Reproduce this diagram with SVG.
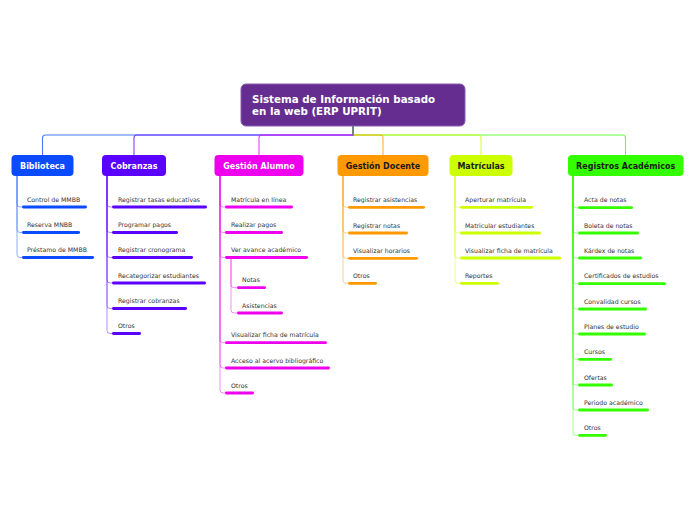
<svg xmlns="http://www.w3.org/2000/svg" width="696" height="520" viewBox="0 0 696 520">
<style>
.bg{fill:#ffffff}
.root rect{fill:#662d91;stroke:#8a5cb0;stroke-width:1}
.root text{font-family:"DejaVu Sans",Verdana,sans-serif;font-weight:bold;font-size:10.3px;fill:#ffffff}
.l1 text{font-family:"DejaVu Sans",Verdana,sans-serif;font-weight:bold;font-size:8px;text-anchor:middle}
.l2 text{font-family:"DejaVu Sans",Verdana,sans-serif;font-size:6.2px;fill:#333333}
.c{fill:none;stroke-width:1.1;stroke-opacity:0.75}
.s{fill:none;stroke-width:1;stroke-opacity:0.45}
.bar{stroke-width:2.8;stroke-linecap:round}
.blue{stroke:#0a4bff}.purp{stroke:#5a00ff}.mag{stroke:#ee00ee}.ora{stroke:#ff9900}.yel{stroke:#ccff00}.grn{stroke:#33ff00}
</style>
<rect class="bg" x="0" y="0" width="696" height="520"/>

<g id="connectors">
  <path class="c grn" d="M353,126 V135 H622.5 Q625.5,135 625.5,138 V155"/>
  <path class="c yel" d="M353,126 V135 H478 Q481,135 481,138 V155"/>
  <path class="c ora" d="M353,126 V135 H380 Q383,135 383,138 V155"/>
  <path class="c blue" d="M353,126 V135 H45.5 Q42.5,135 42.5,138 V155"/>
  <path class="c purp" d="M353,126 V135 H137 Q134,135 134,138 V155"/>
  <path class="c mag" d="M353,126 V135 H262 Q259,135 259,138 V155"/>
  <path class="c grn" d="M353,126 V135"/>

  <!-- Biblioteca stubs -->
  <path class="s blue" d="M17,176 V204 Q17,207 20,207 H22"/>
  <path class="s blue" d="M17,176 V229.5 Q17,232.5 20,232.5 H22"/>
  <path class="s blue" d="M17,176 V254.5 Q17,257.5 20,257.5 H22"/>
  <!-- Cobranzas stubs -->
  <path class="s purp" d="M107,176 V204 Q107,207 110,207 H112"/>
  <path class="s purp" d="M107,176 V229.5 Q107,232.5 110,232.5 H112"/>
  <path class="s purp" d="M107,176 V254.5 Q107,257.5 110,257.5 H112"/>
  <path class="s purp" d="M107,176 V280 Q107,283 110,283 H112"/>
  <path class="s purp" d="M107,176 V305.5 Q107,308.5 110,308.5 H112"/>
  <path class="s purp" d="M107,176 V330.5 Q107,333.5 110,333.5 H112"/>
  <!-- Gestion Alumno stubs -->
  <path class="s mag" d="M220,176 V204 Q220,207 223,207 H225"/>
  <path class="s mag" d="M220,176 V229.5 Q220,232.5 223,232.5 H225"/>
  <path class="s mag" d="M220,176 V254.5 Q220,257.5 223,257.5 H225"/>
  <path class="s mag" d="M220,176 V339.7 Q220,342.7 223,342.7 H225"/>
  <path class="s mag" d="M220,176 V365 Q220,368 223,368 H225"/>
  <path class="s mag" d="M220,176 V390 Q220,393 223,393 H225"/>
  <path class="s mag" d="M231,258.5 V284.7 Q231,287.7 234,287.7 H237"/>
  <path class="s mag" d="M231,258.5 V310 Q231,313 234,313 H237"/>
  <!-- Gestion Docente stubs -->
  <path class="s ora" d="M343,176 V204.3 Q343,207.3 346,207.3 H348"/>
  <path class="s ora" d="M343,176 V230 Q343,233 346,233 H348"/>
  <path class="s ora" d="M343,176 V255.3 Q343,258.3 346,258.3 H348"/>
  <path class="s ora" d="M343,176 V280.3 Q343,283.3 346,283.3 H348"/>
  <!-- Matriculas stubs -->
  <path class="s yel" d="M455,176 V204.3 Q455,207.3 458,207.3 H460"/>
  <path class="s yel" d="M455,176 V230 Q455,233 458,233 H460"/>
  <path class="s yel" d="M455,176 V255 Q455,258 458,258 H460"/>
  <path class="s yel" d="M455,176 V280.3 Q455,283.3 458,283.3 H460"/>
  <!-- Registros stubs -->
  <path class="s grn" d="M573,176 V204.7 Q573,207.7 576,207.7 H578"/>
  <path class="s grn" d="M573,176 V230 Q573,233 576,233 H578"/>
  <path class="s grn" d="M573,176 V255 Q573,258 576,258 H578"/>
  <path class="s grn" d="M573,176 V280.7 Q573,283.7 576,283.7 H578"/>
  <path class="s grn" d="M573,176 V306 Q573,309 576,309 H578"/>
  <path class="s grn" d="M573,176 V331 Q573,334 576,334 H578"/>
  <path class="s grn" d="M573,176 V356.3 Q573,359.3 576,359.3 H578"/>
  <path class="s grn" d="M573,176 V382 Q573,385 576,385 H578"/>
  <path class="s grn" d="M573,176 V407 Q573,410 576,410 H578"/>
  <path class="s grn" d="M573,176 V432.3 Q573,435.3 576,435.3 H578"/>
</g>

<g id="root" class="root">
  <rect x="241" y="84" width="224" height="42" rx="5"/>
  <text x="252" y="102.6">Sistema de Información basado</text>
  <text x="252" y="115.3">en la web (ERP UPRIT)</text>
</g>

<g id="biblioteca" class="l1">
  <rect x="11.5" y="155" width="62" height="21" rx="4" fill="#0a4bff"/>
  <text x="42.5" y="168.9" fill="#ffffff">Biblioteca</text>
</g>
<g id="cobranzas" class="l1">
  <rect x="102" y="155" width="64" height="21" rx="4" fill="#5a00ff"/>
  <text x="134" y="168.9" fill="#ffffff">Cobranzas</text>
</g>
<g id="gestion-alumno" class="l1">
  <rect x="214.5" y="155" width="89" height="21" rx="4" fill="#ee00ee"/>
  <text x="259" y="168.9" fill="#ffffff">Gestión Alumno</text>
</g>
<g id="gestion-docente" class="l1">
  <rect x="337.5" y="155" width="91" height="21" rx="4" fill="#ff9900"/>
  <text x="383" y="168.9" fill="#1a1a1a">Gestión Docente</text>
</g>
<g id="matriculas" class="l1">
  <rect x="449.5" y="155" width="63" height="21" rx="4" fill="#ccff00"/>
  <text x="481" y="168.9" fill="#1a1a1a">Matrículas</text>
</g>
<g id="registros" class="l1">
  <rect x="568" y="155" width="115.5" height="21" rx="4" fill="#33ff00"/>
  <text x="625.7" y="168.9" fill="#1a1a1a">Registros Académicos</text>
</g>

<!-- Biblioteca children -->
<g id="b1" class="l2"><text x="27" y="201.5">Control de MMBB</text><line class="bar blue" x1="23.4" y1="207" x2="85.6" y2="207"/></g>
<g id="b2" class="l2"><text x="27" y="227">Reserva MNBB</text><line class="bar blue" x1="23.4" y1="232.5" x2="78.6" y2="232.5"/></g>
<g id="b3" class="l2"><text x="27" y="252">Préstamo de MMBB</text><line class="bar blue" x1="23.4" y1="257.5" x2="92.6" y2="257.5"/></g>

<!-- Cobranzas children -->
<g id="c1" class="l2"><text x="118" y="201.5">Registrar tasas educativas</text><line class="bar purp" x1="113.4" y1="207" x2="205.6" y2="207"/></g>
<g id="c2" class="l2"><text x="118" y="227">Programar pagos</text><line class="bar purp" x1="113.4" y1="232.5" x2="176.6" y2="232.5"/></g>
<g id="c3" class="l2"><text x="118" y="252">Registrar cronograma</text><line class="bar purp" x1="113.4" y1="257.5" x2="191.6" y2="257.5"/></g>
<g id="c4" class="l2"><text x="118" y="277.5">Recategorizar estudiantes</text><line class="bar purp" x1="113.4" y1="283" x2="204.6" y2="283"/></g>
<g id="c5" class="l2"><text x="118" y="303">Registrar cobranzas</text><line class="bar purp" x1="113.4" y1="308.5" x2="185.6" y2="308.5"/></g>
<g id="c6" class="l2"><text x="118" y="328">Otros</text><line class="bar purp" x1="113.4" y1="333.5" x2="139.6" y2="333.5"/></g>

<!-- Gestion Alumno children -->
<g id="a1" class="l2"><text x="231" y="201.5">Matrícula en línea</text><line class="bar mag" x1="226.4" y1="207" x2="291.6" y2="207"/></g>
<g id="a2" class="l2"><text x="231" y="227">Realizar pagos</text><line class="bar mag" x1="226.4" y1="232.5" x2="281.6" y2="232.5"/></g>
<g id="a3" class="l2"><text x="231" y="252">Ver avance académico</text><line class="bar mag" x1="226.4" y1="257.5" x2="306.6" y2="257.5"/></g>
<g id="a3a" class="l2"><text x="242" y="282.2">Notas</text><line class="bar mag" x1="238.4" y1="287.7" x2="264.6" y2="287.7"/></g>
<g id="a3b" class="l2"><text x="242" y="307.5">Asistencias</text><line class="bar mag" x1="238.4" y1="313" x2="281.6" y2="313"/></g>
<g id="a4" class="l2"><text x="231" y="337.2">Visualizar ficha de matrícula</text><line class="bar mag" x1="226.4" y1="342.7" x2="325.6" y2="342.7"/></g>
<g id="a5" class="l2"><text x="231" y="362.5">Acceso al acervo bibliográfico</text><line class="bar mag" x1="226.4" y1="368" x2="328.6" y2="368"/></g>
<g id="a6" class="l2"><text x="231" y="387.5">Otros</text><line class="bar mag" x1="226.4" y1="393" x2="252.6" y2="393"/></g>

<!-- Gestion Docente children -->
<g id="d1" class="l2"><text x="353" y="201.8">Registrar asistencias</text><line class="bar ora" x1="349.4" y1="207.3" x2="423.6" y2="207.3"/></g>
<g id="d2" class="l2"><text x="353" y="227.5">Registrar notas</text><line class="bar ora" x1="349.4" y1="233" x2="406.6" y2="233"/></g>
<g id="d3" class="l2"><text x="353" y="252.8">Visualizar horarios</text><line class="bar ora" x1="349.4" y1="258.3" x2="416.6" y2="258.3"/></g>
<g id="d4" class="l2"><text x="353" y="277.8">Otros</text><line class="bar ora" x1="349.4" y1="283.3" x2="375.6" y2="283.3"/></g>

<!-- Matriculas children -->
<g id="m1" class="l2"><text x="465" y="201.8">Aperturar matrícula</text><line class="bar yel" x1="461.4" y1="207.3" x2="531.6" y2="207.3"/></g>
<g id="m2" class="l2"><text x="465" y="227.5">Matricular estudiantes</text><line class="bar yel" x1="461.4" y1="233" x2="539.6" y2="233"/></g>
<g id="m3" class="l2"><text x="465" y="252.5">Visualizar ficha de matrícula</text><line class="bar yel" x1="461.4" y1="258" x2="559.6" y2="258"/></g>
<g id="m4" class="l2"><text x="465" y="277.8">Reportes</text><line class="bar yel" x1="461.4" y1="283.3" x2="497.6" y2="283.3"/></g>

<!-- Registros children -->
<g id="r1" class="l2"><text x="584" y="202.2">Acta de notas</text><line class="bar grn" x1="579.4" y1="207.7" x2="631.6" y2="207.7"/></g>
<g id="r2" class="l2"><text x="584" y="227.5">Boleta de notas</text><line class="bar grn" x1="579.4" y1="233" x2="637.6" y2="233"/></g>
<g id="r3" class="l2"><text x="584" y="252.5">Kárdex de notas</text><line class="bar grn" x1="579.4" y1="258" x2="640.6" y2="258"/></g>
<g id="r4" class="l2"><text x="584" y="278.2">Certificados de estudios</text><line class="bar grn" x1="579.4" y1="283.7" x2="664.6" y2="283.7"/></g>
<g id="r5" class="l2"><text x="584" y="303.5">Convalidad cursos</text><line class="bar grn" x1="579.4" y1="309" x2="645.6" y2="309"/></g>
<g id="r6" class="l2"><text x="584" y="328.5">Planes de estudio</text><line class="bar grn" x1="579.4" y1="334" x2="644.6" y2="334"/></g>
<g id="r7" class="l2"><text x="584" y="353.8">Cursos</text><line class="bar grn" x1="579.4" y1="359.3" x2="610.6" y2="359.3"/></g>
<g id="r8" class="l2"><text x="584" y="379.5">Ofertas</text><line class="bar grn" x1="579.4" y1="385" x2="611.6" y2="385"/></g>
<g id="r9" class="l2"><text x="584" y="404.5">Periodo académico</text><line class="bar grn" x1="579.4" y1="410" x2="647.6" y2="410"/></g>
<g id="r10" class="l2"><text x="584" y="429.8">Otros</text><line class="bar grn" x1="579.4" y1="435.3" x2="605.6" y2="435.3"/></g>
</svg>
